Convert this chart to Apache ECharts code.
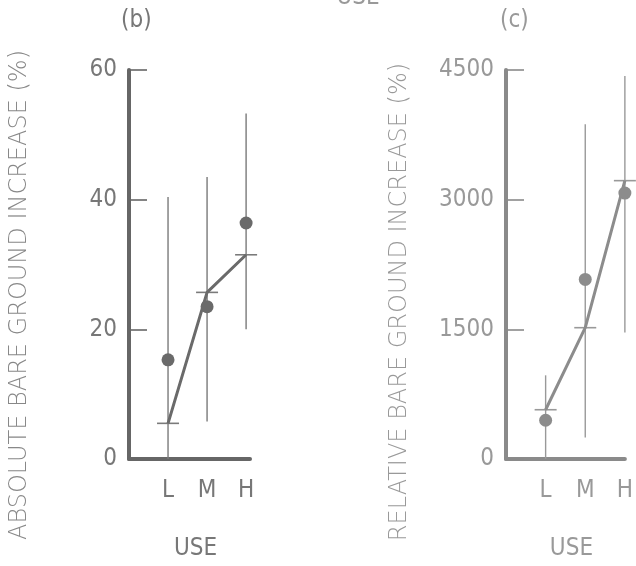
<!DOCTYPE html>
<html>
<head>
<meta charset="utf-8">
<script src="https://cdn.jsdelivr.net/npm/echarts@6/dist/echarts.min.js"></script>
<style>
  html, body { margin: 0; padding: 0; background: #fff; }
  #chart { width: 636px; height: 566px; }
</style>
</head>
<body>
<div id="chart"></div>
<script>
// Use levels on the horizontal axis
const useLevels = ['L', 'M', 'H'];
const usePositions = [1, 2, 3];

// (b) absolute bare ground increase, %
const absObserved = [15.3, 23.5, 36.4];
const absMean = [5.5, 25.7, 31.5];
const absLow = [0, 5.8, 20.0];
const absHigh = [40.4, 43.5, 53.3];
const absTicks = [0, 20, 40, 60];

// (c) relative bare ground increase, %
const relObserved = [448, 2077, 3076];
const relMean = [570, 1519, 3220];
const relLow = [0, 250, 1462];
const relHigh = [968, 3873, 4432];
const relTicks = [0, 1500, 3000, 4500];

const NARROW = '"DejaVu Sans Condensed", "Liberation Sans Narrow", sans-serif';
const WIDE = '"DejaVu Sans", sans-serif';

function panel(idx, low, high, mean, observed, ink, inkLight) {
  const rangeData = usePositions.map((x, i) => [x, low[i], high[i], mean[i]]);
  const meanData = usePositions.map((x, i) => [x, mean[i]]);
  const obsData = usePositions.map((x, i) => [x, observed[i]]);
  return [
    {
      type: 'custom',
      xAxisIndex: idx, yAxisIndex: idx,
      clip: false,
      z: 2,
      data: rangeData,
      renderItem: function (params, api) {
        const top = api.coord([api.value(0), api.value(2)]);
        const bot = api.coord([api.value(0), api.value(1)]);
        const mid = api.coord([api.value(0), api.value(3)]);
        return {
          type: 'group',
          children: [
            { type: 'line', shape: { x1: top[0], y1: top[1], x2: bot[0], y2: bot[1] },
              style: { stroke: inkLight, lineWidth: 1.4 } },
            { type: 'line', shape: { x1: mid[0] - 11, y1: mid[1], x2: mid[0] + 11, y2: mid[1] },
              style: { stroke: inkLight, lineWidth: 1.6 } }
          ]
        };
      }
    },
    {
      type: 'line',
      xAxisIndex: idx, yAxisIndex: idx,
      data: meanData,
      symbol: 'none',
      z: 3,
      lineStyle: { color: ink, width: 3 }
    },
    {
      type: 'scatter',
      xAxisIndex: idx, yAxisIndex: idx,
      data: obsData,
      symbolSize: 13,
      z: 4,
      itemStyle: { color: ink, opacity: 1 }
    }
  ];
}

function yAxisFor(idx, ticks, ink, textInk) {
  return {
    type: 'value', gridIndex: idx,
    min: ticks[0], max: ticks[ticks.length - 1],
    interval: ticks[1] - ticks[0],
    axisLine: { show: true, lineStyle: { color: ink, width: 4 } },
    axisTick: { show: true, inside: true, length: 18, lineStyle: { color: ink, width: 1.6 } },
    splitLine: { show: false },
    axisLabel: { margin: 12, color: textInk, fontFamily: NARROW, fontSize: 24,
                 formatter: v => String(v) }
  };
}

function xAxisFor(idx, max, ink, textInk) {
  return {
    type: 'value', gridIndex: idx,
    min: 0, max: max, interval: 1,
    axisLine: { show: true, onZero: false, lineStyle: { color: ink, width: 4 } },
    axisTick: { show: false },
    splitLine: { show: false },
    axisLabel: {
      margin: 20, color: textInk, fontFamily: NARROW, fontSize: 24,
      formatter: v => (Number.isInteger(v) && v >= 1 && v <= 3) ? useLevels[v - 1] : ''
    },
    name: 'USE', nameLocation: 'middle', nameGap: 78,
    nameTextStyle: { color: textInk, fontFamily: NARROW, fontSize: 24, padding: [0, 0, 0, 12] }
  };
}

const chart = echarts.init(document.getElementById('chart'), null, { renderer: 'canvas' });
chart.setOption({
  backgroundColor: '#fff',
  animation: false,
  grid: [
    { left: 129, top: 70, width: 121, height: 395 },
    { left: 506, top: 70, width: 121, height: 395 }
  ],
  xAxis: [
    xAxisFor(0, 3.1, '#666', '#777'),
    xAxisFor(1, 3.0, '#8a8a8a', '#999')
  ],
  yAxis: [
    yAxisFor(0, absTicks, '#666', '#777'),
    yAxisFor(1, relTicks, '#8a8a8a', '#999')
  ],
  series: [
    ...panel(0, absLow, absHigh, absMean, absObserved, '#6a6a6a', '#7a7a7a'),
    ...panel(1, relLow, relHigh, relMean, relObserved, '#8c8c8c', '#999')
  ],
  graphic: [
    { type: 'text', left: 121, top: 9,
      style: { text: '(b)', fill: '#777', font: '24px ' + NARROW } },
    { type: 'text', left: 500, top: 9,
      style: { text: '(c)', fill: '#999', font: '24px ' + NARROW } },
    { type: 'text', x: 358, y: 10,
      style: { text: 'USE', fill: '#999', font: '24px ' + NARROW, align: 'center', verticalAlign: 'bottom' } },
    { type: 'text', x: 20, y: 295, rotation: Math.PI / 2,
      style: { text: 'ABSOLUTE BARE GROUND INCREASE (%)', fill: '#888', font: '200 24px ' + WIDE,
               align: 'center', verticalAlign: 'middle' } },
    { type: 'text', x: 400, y: 302, rotation: Math.PI / 2,
      style: { text: 'RELATIVE BARE GROUND INCREASE (%)', fill: '#999', font: '200 24px ' + WIDE,
               align: 'center', verticalAlign: 'middle' } }
  ]
});
</script>
</body>
</html>
